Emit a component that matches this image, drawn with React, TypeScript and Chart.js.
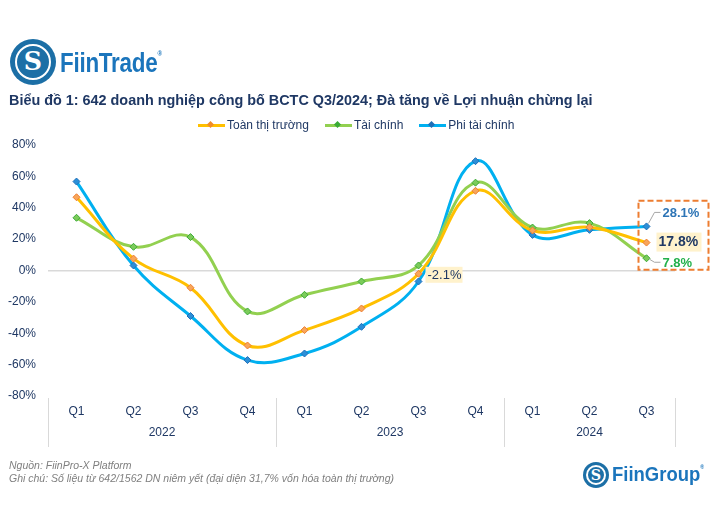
import React, { useEffect, useRef } from "react";
import { Chart, registerables } from "chart.js";

Chart.register(...registerables);

const quarters = ["Q1", "Q2", "Q3", "Q4", "Q1", "Q2", "Q3", "Q4", "Q1", "Q2", "Q3"];
const years = ["2022", "2023", "2024"];
const yearSpans = [4, 4, 3];
const toanThiTruong = [46.7, 7.6, -11.0, -47.8, -38.0, -24.2, -2.1, 50.8, 25.5, 27.6, 17.8];
const taiChinh = [33.6, 15.1, 21.3, -26.1, -15.5, -7.0, 3.2, 56.0, 27.4, 30.2, 7.8];
const phiTaiChinh = [56.7, 3.2, -29.0, -57.1, -52.9, -35.9, -7.0, 69.7, 22.7, 25.9, 28.1];
const yTicks = [-80, -60, -40, -20, 0, 20, 40, 60, 80];

const NAVY = "#1F3864";
const FONT = "'Liberation Sans', Arial, sans-serif";

const annotPlugin = {
  id: "annot",
  afterDraw(chart: any) {
    const ctx = chart.ctx;
    const x = chart.scales.x;
    const y = chart.scales.y;
    const n = quarters.length;
    const w = (x.right - x.left) / n;
    ctx.save();
    ctx.strokeStyle = "#d9d9d9";
    ctx.lineWidth = 1;
    let cum = 0;
    const bottom = chart.chartArea.bottom;
    const sepXs = [x.left];
    yearSpans.forEach((s) => {
      cum += s;
      sepXs.push(x.left + cum * w);
    });
    sepXs.forEach((sx) => {
      ctx.beginPath();
      ctx.moveTo(Math.round(sx) + 0.5, bottom + 2);
      ctx.lineTo(Math.round(sx) + 0.5, bottom + 51);
      ctx.stroke();
    });
    ctx.fillStyle = NAVY;
    ctx.font = `12px ${FONT}`;
    ctx.textAlign = "center";
    ctx.textBaseline = "middle";
    cum = 0;
    yearSpans.forEach((s, i) => {
      const cx = x.left + (cum + s / 2) * w;
      ctx.fillText(years[i], cx, bottom + 37);
      cum += s;
    });

    // -2.1% label
    const mOr = chart.getDatasetMeta(0).data;
    const pQ3 = mOr[6];
    ctx.fillStyle = "#FFF2CC";
    ctx.fillRect(pQ3.x + 7, pQ3.y - 7, 37, 16);
    ctx.fillStyle = NAVY;
    ctx.font = `13px ${FONT}`;
    ctx.textAlign = "left";
    ctx.fillText(toanThiTruong[6].toFixed(1) + "%", pQ3.x + 9, pQ3.y + 1.5);

    // right box
    const last = n - 1;
    const pO = mOr[last];
    const pG = chart.getDatasetMeta(1).data[last];
    const pB = chart.getDatasetMeta(2).data[last];
    ctx.setLineDash([6, 3]);
    ctx.strokeStyle = "#ED7D31";
    ctx.lineWidth = 2;
    ctx.strokeRect(pB.x - 8, y.getPixelForValue(44.5), 70, 69);
    ctx.setLineDash([]);
    ctx.strokeStyle = "#A6A6A6";
    ctx.lineWidth = 1;
    ctx.beginPath();
    ctx.moveTo(pB.x + 2, pB.y - 3);
    ctx.lineTo(pB.x + 8, pB.y - 14);
    ctx.lineTo(pB.x + 14, pB.y - 14);
    ctx.moveTo(pG.x + 3, pG.y + 1);
    ctx.lineTo(pG.x + 8, pG.y + 4);
    ctx.lineTo(pG.x + 14, pG.y + 4);
    ctx.stroke();
    ctx.font = `bold 13px ${FONT}`;
    ctx.fillStyle = "#2E75B6";
    ctx.fillText(phiTaiChinh[last].toFixed(1) + "%", pB.x + 16, pB.y - 13);
    ctx.fillStyle = "#22B04B";
    ctx.fillText(taiChinh[last].toFixed(1) + "%", pG.x + 16, pG.y + 5);
    ctx.fillStyle = "#FFF2CC";
    ctx.fillRect(pO.x + 10, pO.y - 10, 45, 19);
    ctx.fillStyle = NAVY;
    ctx.font = `bold 14px ${FONT}`;
    ctx.fillText(toanThiTruong[last].toFixed(1) + "%", pO.x + 12, pO.y);
    ctx.restore();
  },
};

function LegendItem({ color, marker, label }: { color: string; marker: string; label: string }) {
  return (
    <div style={{ display: "flex", alignItems: "center", marginRight: 16 }}>
      <div style={{ position: "relative", width: 27, height: 10, marginRight: 2 }}>
        <div style={{ position: "absolute", left: 0, top: 4, width: 27, height: 3, background: color }} />
        <div
          style={{
            position: "absolute",
            left: 10,
            top: 2,
            width: 5,
            height: 5,
            background: marker,
            transform: "rotate(45deg)",
          }}
        />
      </div>
      <span>{label}</span>
    </div>
  );
}

function Logo({ size, left, top }: { size: number; left: number; top: number }) {
  return (
    <div
      style={{
        position: "absolute",
        left,
        top,
        width: size,
        height: size,
        borderRadius: "50%",
        background: "#1C6FA6",
        display: "flex",
        alignItems: "center",
        justifyContent: "center",
      }}
    >
      <div
        style={{
          width: size * 0.78,
          height: size * 0.78,
          borderRadius: "50%",
          border: "2px solid #ffffff",
          boxSizing: "border-box",
          display: "flex",
          alignItems: "center",
          justifyContent: "center",
          color: "#fff",
          fontFamily: "'DejaVu Serif', serif",
          fontWeight: "bold",
          fontSize: size * 0.55,
          lineHeight: 1,
        }}
      >
        S
      </div>
    </div>
  );
}

export default function App() {
  const ref = useRef<HTMLCanvasElement>(null);
  useEffect(() => {
    document.body.style.margin = "0";
    const mk = (label: string, data: number[], line: string, fill: string, border: string) => ({
      label,
      data,
      borderColor: line,
      backgroundColor: line,
      borderWidth: 3,
      tension: 0.4,
      pointStyle: "rectRot",
      pointRadius: 3.5,
      pointBackgroundColor: fill,
      pointBorderColor: border,
      pointBorderWidth: 1,
    });
    const chart = new Chart(ref.current!, {
      type: "line",
      data: {
        labels: quarters,
        datasets: [
          mk("Toàn thị trường", toanThiTruong, "#FFC000", "#F8A65A", "#ED7D31"),
          mk("Tài chính", taiChinh, "#92D050", "#7CCB5A", "#3AAA35"),
          mk("Phi tài chính", phiTaiChinh, "#00B0F0", "#2B8FD8", "#1F6FB8"),
        ],
      },
      options: {
        responsive: false,
        animation: false,
        layout: { padding: { left: 0, right: 45, top: 145, bottom: 0 } },
        plugins: { legend: { display: false }, tooltip: { enabled: false } },
        scales: {
          x: {
            offset: true,
            grid: { display: false, drawTicks: false },
            border: { display: false },
            ticks: { color: NAVY, font: { family: FONT, size: 12 }, padding: 8, maxRotation: 0, autoSkip: false },
            afterFit: (s: any) => {
              s.height = 134;
            },
          },
          y: {
            min: -80,
            max: 80,
            afterBuildTicks: (s: any) => {
              s.ticks = yTicks.map((v) => ({ value: v }));
            },
            grid: {
              drawTicks: false,
              color: (c: any) => (c.tick && c.tick.value === 0 ? "#d9d9d9" : "rgba(0,0,0,0)"),
              lineWidth: 1.5,
            },
            border: { display: false },
            ticks: {
              color: NAVY,
              font: { family: FONT, size: 12 },
              padding: 12,
              callback: (v: any) => v + "%",
            },
            afterFit: (s: any) => {
              s.width = 48;
            },
          },
        },
      },
      plugins: [annotPlugin],
    } as any);
    return () => chart.destroy();
  }, []);

  return (
    <div style={{ position: "fixed", left: 0, top: 0, width: 720, height: 530, background: "#fff", fontFamily: FONT, overflow: "hidden" }}>
      <canvas ref={ref} width={720} height={530} style={{ position: "absolute", left: 0, top: 0 }} />
      <Logo size={46} left={10} top={39} />
      <div
        style={{
          position: "absolute",
          left: 60,
          top: 47,
          fontSize: 28,
          fontWeight: "bold",
          color: "#1B75BC",
          transform: "scaleX(0.8)",
          transformOrigin: "left top",
          letterSpacing: -0.3,
        }}
      >
        FiinTrade<sup style={{ fontSize: 8, verticalAlign: "top", position: "relative", top: 2 }}>®</sup>
      </div>
      <div style={{ position: "absolute", left: 9, top: 92, fontSize: 14.4, fontWeight: "bold", color: NAVY, whiteSpace: "nowrap" }}>
        Biểu đồ 1: 642 doanh nghiệp công bố BCTC Q3/2024; Đà tăng về Lợi nhuận chừng lại
      </div>
      <div
        style={{
          position: "absolute",
          left: 198,
          top: 118,
          display: "flex",
          fontSize: 12,
          color: NAVY,
          whiteSpace: "nowrap",
        }}
      >
        <LegendItem color="#FFC000" marker="#F28C28" label="Toàn thị trường" />
        <LegendItem color="#92D050" marker="#3AAA35" label="Tài chính" />
        <LegendItem color="#00B0F0" marker="#1F6FB8" label="Phi tài chính" />
      </div>
      <div style={{ position: "absolute", left: 9, top: 459, fontSize: 10.5, fontStyle: "italic", color: "#7F7F7F", lineHeight: "13px" }}>
        <div>Nguồn: FiinPro-X Platform</div>
        <div>Ghi chú: Số liệu từ 642/1562 DN niêm yết (đại diện 31,7% vốn hóa toàn thị trường)</div>
      </div>
      <Logo size={26} left={583} top={462} />
      <div
        style={{
          position: "absolute",
          left: 612,
          top: 462,
          fontSize: 21,
          fontWeight: "bold",
          color: "#1B75BC",
          transform: "scaleX(0.88)",
          transformOrigin: "left top",
        }}
      >
        FiinGroup<sup style={{ fontSize: 6, verticalAlign: "top", position: "relative", top: 2 }}>®</sup>
      </div>
    </div>
  );
}
